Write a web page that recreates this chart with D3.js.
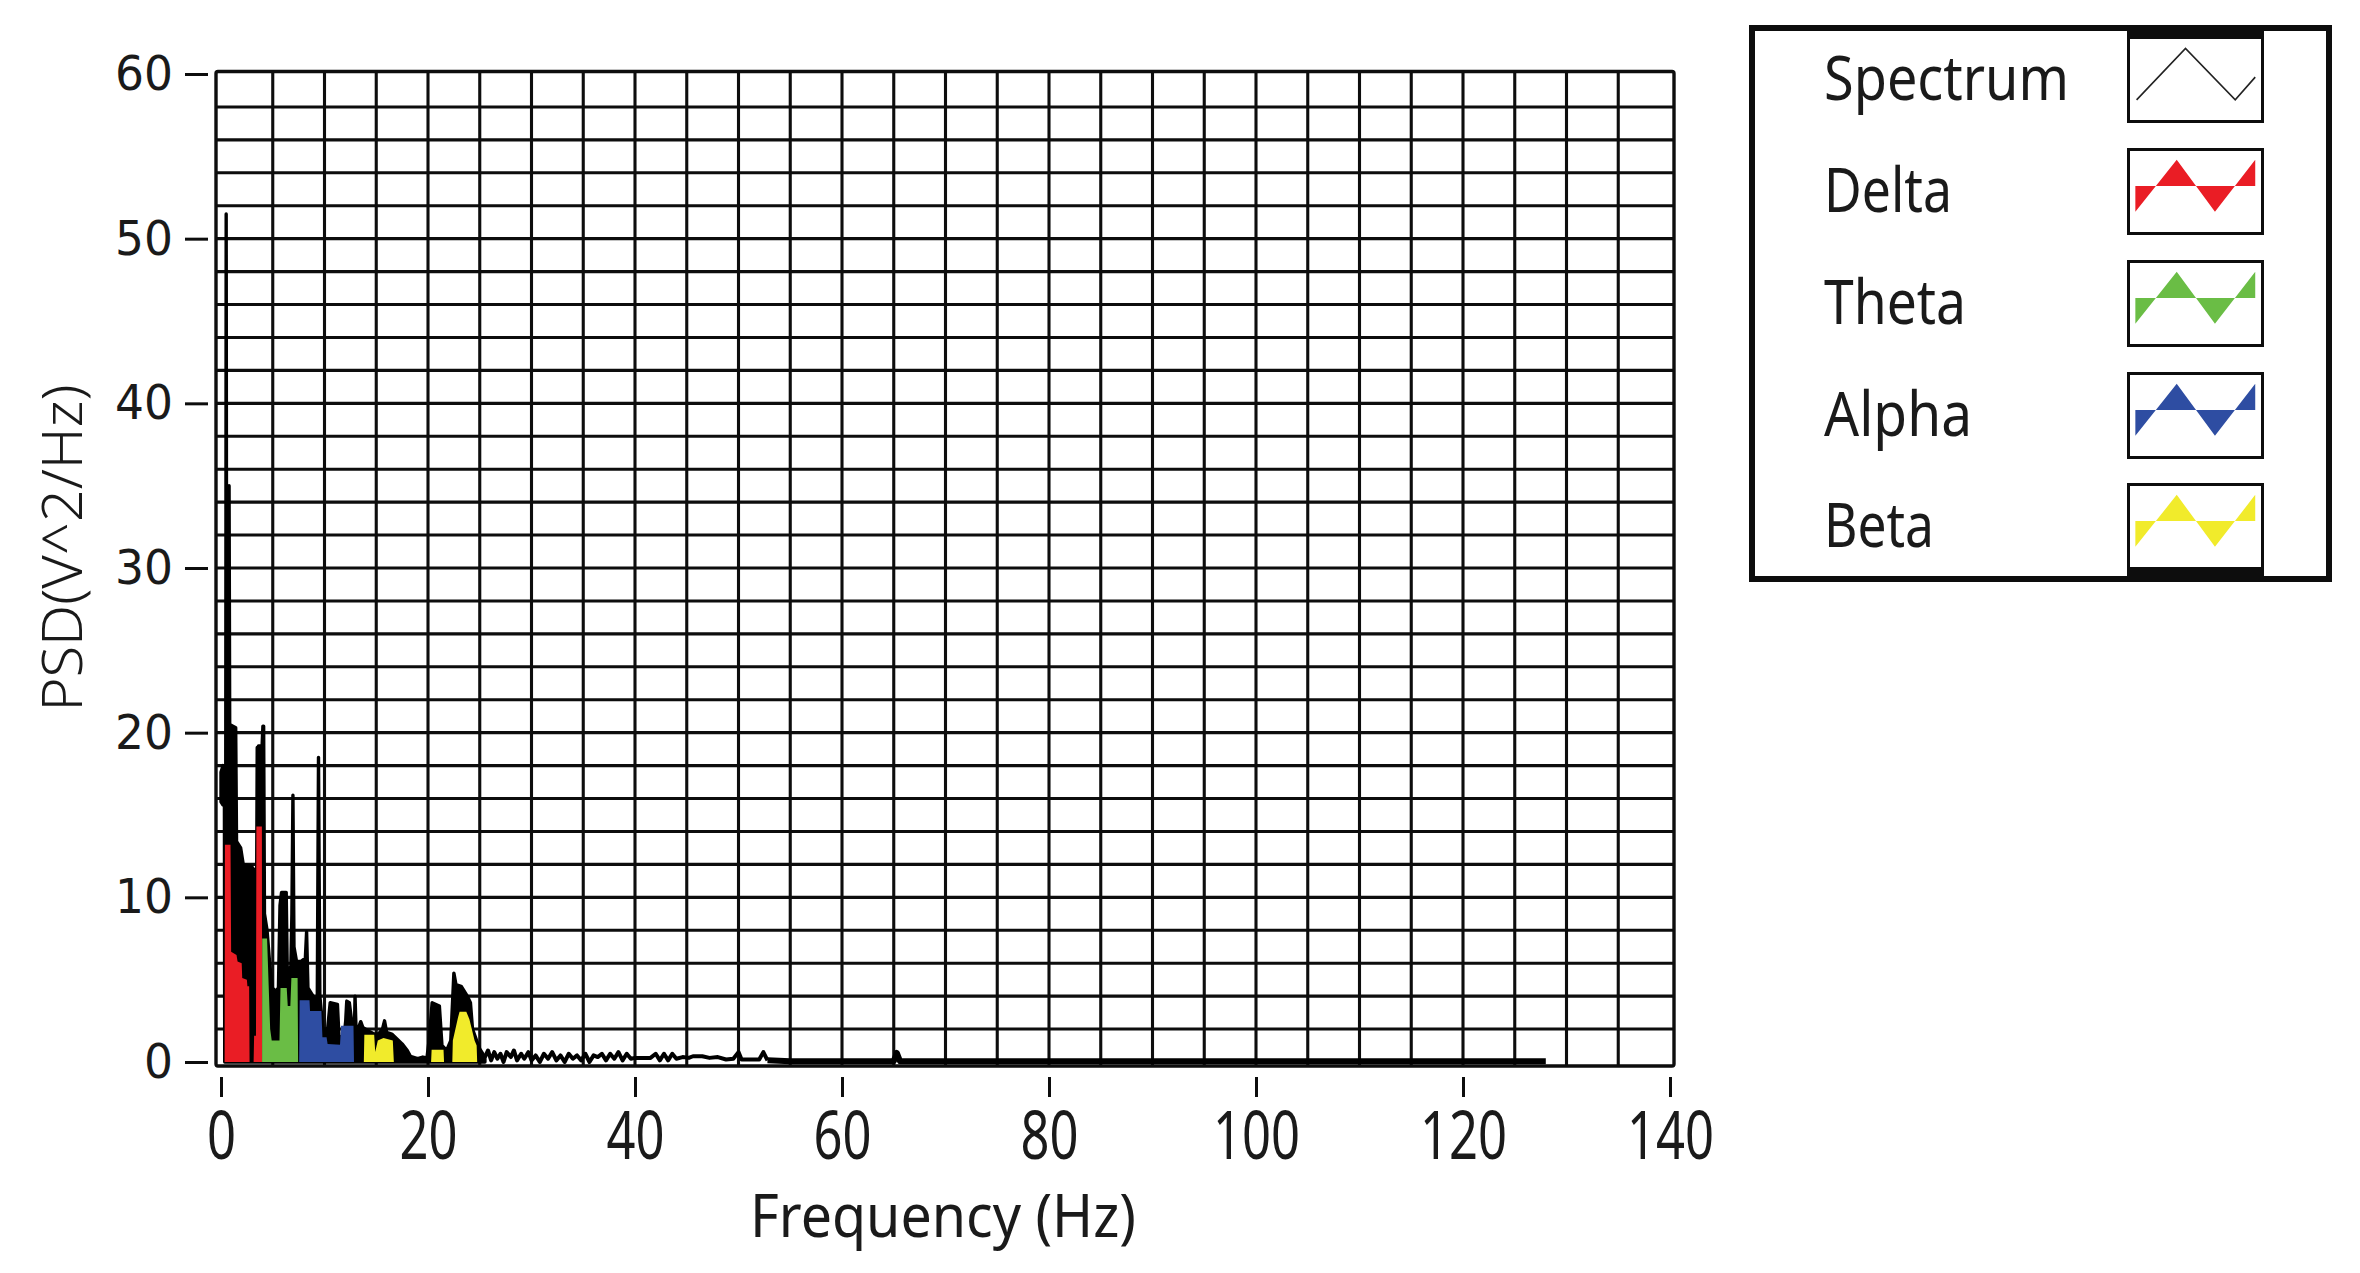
<!DOCTYPE html>
<html><head><meta charset="utf-8">
<script src="https://cdn.jsdelivr.net/npm/d3@7"></script>
<style>html,body{margin:0;padding:0;background:#fff;} svg{display:block;}</style>
</head><body>
<svg id="chart" width="2360" height="1273"></svg>
<script>
// ---------------- DATA ----------------
const xTicks = [0, 20, 40, 60, 80, 100, 120, 140];
const yTicks = [0, 10, 20, 30, 40, 50, 60];
const xAxisTitle = "Frequency (Hz)";
const yAxisTitle = "PSD(V^2/Hz)";
const legendLabels = ["Spectrum", "Delta", "Theta", "Alpha", "Beta"];

// Spectrum (black), 0-25.5 Hz: [frequency Hz, upper PSD, lower PSD] of the dense trace
const spectrumBody = [
  [0.0, 17.6, 15.8], [0.2, 18.0, 15.6], [0.33, 17.5, 15.6], [0.36, 17.8, 0],
  [0.46, 18.0, 0], [0.5, 51.5, 0], [0.55, 19.5, 0], [0.72, 20.0, 0],
  [0.78, 35.0, 0], [0.84, 20.5, 0], [1.42, 20.3, 0], [1.5, 13.4, 0],
  [1.9, 13.0, 0], [2.15, 12.0, 0], [2.95, 11.9, 0], [3.2, 11.6, 0],
  [3.45, 11.8, 0], [3.5, 19.1, 0], [3.56, 12.5, 0], [3.62, 19.2, 0],
  [3.97, 19.2, 0], [4.05, 20.4, 0], [4.12, 20.4, 0], [4.2, 9.0, 0],
  [4.45, 8.0, 0], [4.7, 6.0, 0], [4.95, 4.5, 0], [5.3, 4.3, 0],
  [5.55, 4.5, 0], [5.7, 9.5, 0], [5.85, 10.3, 0], [6.3, 10.3, 0],
  [6.4, 5.5, 0], [6.75, 5.8, 0], [6.85, 9.0, 0], [6.95, 16.2, 0],
  [7.05, 7.0, 0], [7.3, 6.1, 0], [7.7, 6.1, 0], [8.15, 6.3, 0],
  [8.27, 7.9, 0], [8.4, 4.5, 0], [8.9, 4.0, 0], [9.3, 3.6, 0],
  [9.42, 18.5, 0], [9.55, 4.0, 0], [9.85, 2.0, 0], [10.3, 2.0, 0],
  [10.55, 3.6, 0], [11.25, 3.5, 0], [11.4, 1.5, 0], [11.9, 1.6, 0],
  [12.05, 2.5, 0], [12.15, 3.7, 0], [12.4, 3.6, 0], [12.7, 2.1, 0],
  [12.9, 2.2, 0], [12.95, 4.0, 0], [13.05, 1.9, 0], [13.3, 2.1, 0],
  [13.5, 2.45, 0], [13.7, 2.1, 0], [14.2, 1.9, 0], [14.8, 1.7, 0],
  [15.2, 1.7, 0], [15.6, 2.0, 0], [15.8, 2.5, 0], [16.0, 1.8, 0],
  [16.5, 1.7, 0], [17.0, 1.4, 0], [17.5, 1.1, 0], [18.0, 0.7, 0],
  [18.3, 0.35, 0], [19.0, 0.2, 0], [19.5, 0.3, 0], [19.9, 0.25, 0],
  [20.1, 1.3, 0], [20.4, 3.6, 0], [21.1, 3.4, 0], [21.35, 1.0, 0],
  [21.8, 0.7, 0], [22.2, 1.3, 0], [22.5, 5.4, 0], [22.7, 4.7, 0],
  [23.2, 4.6, 0], [23.8, 4.0, 0], [24.1, 3.6, 0], [24.3, 2.0, 0],
  [24.7, 1.3, 0], [25.0, 0.8, 0], [25.5, 0.3, 0]
];

// Spectrum (black), 25.5-128 Hz trace: [frequency Hz, PSD]
const spectrumTail = [
  [25.5, 0.3], [25.8, 0.7], [26.1, 0.1], [26.4, 0.6], [26.7, 0.2], [27.0, 0.5],
  [27.3, 0.0], [27.6, 0.6], [28.0, 0.3], [28.3, 0.7], [28.6, 0.1], [29.0, 0.5],
  [29.3, 0.2], [29.7, 0.6], [30.0, 0.1], [30.4, 0.4], [30.8, 0.0], [31.2, 0.5],
  [31.6, 0.2], [32.0, 0.6], [32.4, 0.1], [32.8, 0.4], [33.2, 0.0], [33.6, 0.5],
  [34.0, 0.2], [34.4, 0.4], [34.8, 0.1], [35.2, 0.5], [35.6, 0.0], [36.0, 0.4],
  [36.4, 0.3], [36.8, 0.5], [37.2, 0.1], [37.6, 0.5], [38.0, 0.2], [38.4, 0.6],
  [38.8, 0.1], [39.2, 0.5], [39.6, 0.2], [40.0, 0.25], [41.5, 0.25], [42.0, 0.5],
  [42.4, 0.1], [42.8, 0.5], [43.2, 0.1], [43.6, 0.5], [44.0, 0.2], [44.6, 0.3],
  [45.2, 0.25], [45.6, 0.35], [46.5, 0.35], [47.2, 0.25], [48.0, 0.3], [48.8, 0.15],
  [49.5, 0.2], [50.0, 0.6], [50.3, 0.15], [52.0, 0.15], [52.4, 0.6], [52.8, 0.1],
  [55.0, 0.05], [65.0, 0.05], [65.3, 0.55], [65.6, 0.05], [128.0, 0.05]
];

// Bands: [frequency Hz, PSD]
const delta = [
  [0.35, 0], [0.38, 13.2], [0.92, 13.2], [0.98, 6.7], [1.5, 6.5], [1.6, 6.1],
  [2.0, 6.0], [2.05, 5.1], [2.5, 5.0], [2.55, 4.6], [2.72, 4.6], [2.76, 0],
  [3.15, 0], [3.2, 1.6], [3.38, 1.6], [3.42, 14.3], [3.95, 14.3], [3.98, 0]
];
const theta = [
  [3.97, 0], [3.98, 7.5], [4.45, 7.5], [4.75, 2.0], [4.9, 1.3], [5.65, 1.3],
  [5.75, 4.5], [6.35, 4.5], [6.45, 3.4], [6.7, 3.4], [6.8, 5.1], [7.4, 5.1], [7.45, 0]
];
const alpha = [
  [7.55, 0], [7.6, 3.75], [8.55, 3.75], [8.6, 3.1], [9.7, 3.1], [9.8, 1.5],
  [10.2, 1.5], [10.3, 1.1], [11.5, 1.05], [11.6, 2.2], [12.8, 2.2], [12.85, 0]
];
const beta = [
  [13.8, 0], [13.85, 1.65], [14.8, 1.65], [14.9, 0.6], [15.15, 1.3], [15.7, 1.45],
  [16.6, 1.3], [16.7, 0], [20.3, 0], [20.35, 0.75], [21.5, 0.75], [21.55, 0],
  [22.35, 0], [22.4, 1.3], [22.9, 2.7], [23.05, 3.05], [23.7, 3.05], [24.0, 2.6],
  [24.5, 1.3], [24.7, 1.0], [24.75, 0]
];

// ---------------- LAYOUT / STYLE ----------------
const W = 2360, H = 1273;
const frame = {left: 216, right: 1674, top: 71.5, bottom: 1066};
const bandColors = ["#ea1d25", "#6abd45", "#2e4da2", "#f1eb2b"];
const ink = "#0d0d0d";

const svg = d3.select("#chart");
svg.append("rect").attr("width", W).attr("height", H).attr("fill", "#fff");

const x = d3.scaleLinear().domain([0, 140]).range([221, 1670]);
const y = d3.scaleLinear().domain([0, 60]).range([1062, 74]);

// grid
const grid = svg.append("g");
grid.selectAll("line.v").data(d3.range(5, 140, 5)).join("line")
  .attr("x1", d => x(d)).attr("x2", d => x(d))
  .attr("y1", frame.top).attr("y2", frame.bottom)
  .attr("stroke", ink).attr("stroke-width", 3.1);
grid.selectAll("line.h").data(d3.range(2, 60, 2)).join("line")
  .attr("x1", frame.left).attr("x2", frame.right)
  .attr("y1", d => y(d)).attr("y2", d => y(d))
  .attr("stroke", ink).attr("stroke-width", 3.1);

// clip
svg.append("clipPath").attr("id", "plotclip").append("rect")
  .attr("x", frame.left).attr("y", frame.top)
  .attr("width", frame.right - frame.left).attr("height", frame.bottom - frame.top);
const plot = svg.append("g").attr("clip-path", "url(#plotclip)");

// spectrum
const bodyArea = d3.area().x(d => x(d[0])).y0(d => y(d[2])).y1(d => y(d[1]));
plot.append("path").datum(spectrumBody).attr("d", bodyArea)
  .attr("fill", "#000").attr("stroke", "#000").attr("stroke-width", 3.4)
  .attr("stroke-linejoin", "round");
const tailLine = d3.line().x(d => x(d[0])).y(d => y(d[1]));
plot.append("path").datum(spectrumTail.filter(d => d[0] <= 53)).attr("d", tailLine)
  .attr("fill", "none").attr("stroke", "#000").attr("stroke-width", 4)
  .attr("stroke-linejoin", "round");
plot.append("path").datum(spectrumTail.filter(d => d[0] >= 52.8)).attr("d", tailLine)
  .attr("fill", "none").attr("stroke", "#000").attr("stroke-width", 6)
  .attr("stroke-linejoin", "round");

// bands
const bandArea = d3.area().x(d => x(d[0])).y0(y(0)).y1(d => y(d[1]));
[delta, theta, alpha, beta].forEach((band, i) => {
  plot.append("path").datum(band).attr("d", bandArea)
    .attr("fill", bandColors[i]).attr("stroke", "none");
});

// frame
svg.append("rect")
  .attr("x", frame.left).attr("y", frame.top)
  .attr("width", frame.right - frame.left).attr("height", frame.bottom - frame.top)
  .attr("rx", 2).attr("fill", "none").attr("stroke", ink).attr("stroke-width", 3.4);

// y axis
const yAxis = svg.append("g").attr("transform", "translate(208,0)")
  .call(d3.axisLeft(y).tickValues(yTicks).tickSize(23).tickPadding(12));
yAxis.select(".domain").remove();
yAxis.selectAll(".tick line").attr("stroke", ink).attr("stroke-width", 3);
yAxis.selectAll(".tick text")
  .attr("font-family", "'DejaVu Sans', Verdana, sans-serif")
  .attr("font-size", 48).attr("fill", "#1a1a1a")
  .attr("textLength", d => 29 * String(d).length)
  .attr("lengthAdjust", "spacingAndGlyphs");

// x axis
const xAxis = svg.append("g").attr("transform", "translate(0,1077)")
  .call(d3.axisBottom(x).tickValues(xTicks).tickSize(20).tickPadding(14));
xAxis.select(".domain").remove();
xAxis.selectAll(".tick line").attr("stroke", ink).attr("stroke-width", 3);
xAxis.selectAll(".tick text")
  .attr("font-family", "'Noto Sans', 'Open Sans', sans-serif")
  .attr("font-size", 67).attr("fill", "#1a1a1a")
  .attr("textLength", d => 29 * String(d).length)
  .attr("lengthAdjust", "spacingAndGlyphs");

// axis titles
svg.append("text").attr("x", 943).attr("y", 1237)
  .attr("text-anchor", "middle")
  .attr("font-family", "'Noto Sans', 'Open Sans', sans-serif")
  .attr("font-size", 61).attr("fill", "#1a1a1a")
  .attr("textLength", 386).attr("lengthAdjust", "spacingAndGlyphs")
  .text(xAxisTitle);
svg.append("text").attr("transform", "translate(82,548) rotate(-90)")
  .attr("text-anchor", "middle")
  .attr("font-family", "'Noto Sans', 'Open Sans', sans-serif")
  .attr("font-weight", 300)
  .attr("font-size", 56).attr("fill", "#1a1a1a")
  .attr("textLength", 327).attr("lengthAdjust", "spacingAndGlyphs")
  .text(yAxisTitle);

// legend
const leg = {x0: 1752, y0: 28, x1: 2329, y1: 579, textX: 1824,
  swX: 2127, swW: 137, swH: 87, rowTop: [36, 148, 260, 372, 483],
  textW: [245, 128, 142, 148, 110]};
const lg = svg.append("g");
lg.append("rect").attr("x", leg.x0).attr("y", leg.y0)
  .attr("width", leg.x1 - leg.x0).attr("height", leg.y1 - leg.y0)
  .attr("fill", "#fff").attr("stroke", ink).attr("stroke-width", 6);
lg.append("rect").attr("x", leg.swX).attr("y", leg.y0 - 3)
  .attr("width", leg.swW).attr("height", leg.rowTop[0] - leg.y0 + 4).attr("fill", ink);
lg.append("rect").attr("x", leg.swX).attr("y", leg.rowTop[4] + leg.swH - 1)
  .attr("width", leg.swW).attr("height", leg.y1 + 3 - (leg.rowTop[4] + leg.swH - 1)).attr("fill", ink);

const waveLine = [[0.07, 0.734], [0.427, 0.143], [0.79, 0.734], [0.936, 0.473]];
const waveFill = [[0.061, 0.733], [0.363, 0.136], [0.642, 0.733], [0.936, 0.136]];
legendLabels.forEach((lab, i) => {
  const top = leg.rowTop[i];
  const cy = top + leg.swH / 2;
  lg.append("text").attr("x", leg.textX).attr("y", cy + 20)
    .attr("font-family", "'Noto Sans', 'Open Sans', sans-serif")
    .attr("font-size", 62).attr("fill", "#1a1a1a")
    .attr("textLength", leg.textW[i]).attr("lengthAdjust", "spacingAndGlyphs")
    .text(lab);
  lg.append("rect").attr("x", leg.swX + 1.5).attr("y", top + 1.5)
    .attr("width", leg.swW - 3).attr("height", leg.swH - 3)
    .attr("fill", "#fff").attr("stroke", ink).attr("stroke-width", 3);
  const sx = d3.scaleLinear().range([leg.swX, leg.swX + leg.swW]);
  const sy = d3.scaleLinear().range([top, top + leg.swH]);
  if (i === 0) {
    lg.append("path").datum(waveLine)
      .attr("d", d3.line().x(d => sx(d[0])).y(d => sy(d[1])))
      .attr("fill", "none").attr("stroke", "#222").attr("stroke-width", 1.6);
  } else {
    lg.append("path").datum(waveFill)
      .attr("d", d3.area().x(d => sx(d[0])).y0(sy(0.436)).y1(d => sy(d[1])))
      .attr("fill", bandColors[i - 1]);
  }
});
</script>
</body></html>
